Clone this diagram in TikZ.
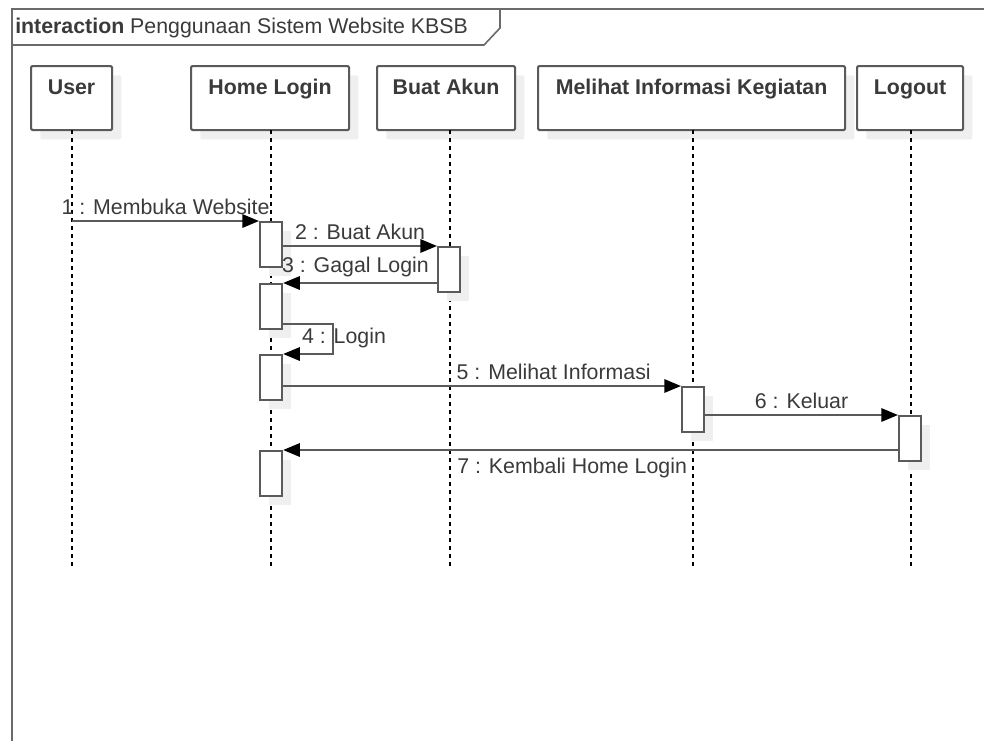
\documentclass[tikz,border=0pt]{standalone}
\usepackage{fontspec}
\setmainfont{Liberation Sans}
\usetikzlibrary{arrows.meta,shadows}

\definecolor{linegray}{HTML}{5A5A5A}
\definecolor{framegray}{HTML}{6A6A6A}
\definecolor{textgray}{HTML}{3A3A3A}
\definecolor{shadowgray}{HTML}{EFEFEF}

\begin{document}
\begin{tikzpicture}[x=0.75pt,y=-0.75pt,
  every node/.style={font=\fontsize{16}{19}\selectfont, text=textgray},
  boxshadow/.style={drop shadow={shadow xshift=7pt, shadow yshift=-7pt,
      fill=shadowgray, opacity=1}},
  headbox/.style={draw=linegray, line width=1.6pt, fill=white, rounded corners=1pt,
      anchor=north west, inner xsep=0pt, inner ysep=0pt,
      text height=21pt, text depth=27pt, font=\fontsize{16}{19}\selectfont\bfseries,
      boxshadow},
  actbox/.style={draw=linegray, line width=1.6pt, fill=white, anchor=north west,
      minimum width=16.5pt, minimum height=33.75pt, inner sep=0pt, boxshadow},
  lifeline/.style={black, line width=0.8pt, dash pattern=on 3pt off 3pt},
  msg/.style={draw=linegray, line width=1.5pt,
      -{Triangle[length=12.5pt, width=10pt, color=black]}},
  lbl/.style={inner sep=1pt, text=textgray},
]
\useasboundingbox (0,0) rectangle (984,740);

% interaction frame and its name tab
\draw[framegray, line width=1.5pt] (12,745) -- (12,9) -- (990,9);
\draw[framegray, line width=1.2pt] (12,9) -- (500,9) -- (500,28) -- (484,45) -- (12,45);
\node[anchor=base west, inner sep=0pt] (title) at (15,33)
  {\textbf{interaction} Penggunaan Sistem Website KBSB};

% lifeline heads
\node[headbox, minimum width=60.75pt] (user)   at (30,65)  {User};
\node[headbox, minimum width=118.5pt] (home)   at (190,65) {Home Login};
\node[headbox, minimum width=103.5pt] (akun)   at (376,65) {Buat Akun};
\node[headbox, minimum width=230.25pt] (info)  at (537,65) {Melihat Informasi Kegiatan};
\node[headbox, minimum width=79.5pt] (logout)  at (856,65) {Logout};

% lifeline tops
\coordinate (uL) at (72,130);
\coordinate (hL) at (271,130);
\coordinate (aL) at (450,130);
\coordinate (iL) at (693,130);
\coordinate (oL) at (911,130);

\foreach \l in {uL,hL,aL,iL,oL}
  \draw[lifeline] (\l) -- ++(0,436);

% activations
\node[actbox] (h1) at (259,221) {};
\node[actbox] (a1) at (437,246) {};
\node[actbox] (h2) at (259,283) {};
\node[actbox] (h3) at (259,354) {};
\node[actbox] (i1) at (681,386) {};
\node[actbox] (o1) at (898,415) {};
\node[actbox] (h4) at (259,450) {};

% messages
\draw[msg] (uL |- h1.north) -- (h1.north west)
  node[lbl, midway, above=3pt] (m1) {1 : Membuka Website};
\draw[msg] (h1.east |- a1.north) -- (a1.north west)
  node[lbl, midway, above=3pt] (m2) {2 : Buat Akun};
\draw[msg] (a1.west |- h2.north) -- (h2.north east)
  node[lbl, pos=0.53, above=3pt] (m3) {3 : Gagal Login};
\draw[msg] ([yshift=4.5pt]h2.south east) -- ++(50,0) |- (h3.north east);
\node[lbl, anchor=base] (m4) at (344,343) {4 : Login};
\draw[msg] (h3.east |- i1.north) -- (i1.north west)
  node[lbl, pos=0.68, above=3pt] (m5) {5 : Melihat Informasi};
\draw[msg] (i1.east |- o1.north) -- (o1.north west)
  node[lbl, midway, above=3pt] (m6) {6 : Keluar};
\draw[msg] (o1.west |- h4.north) -- (h4.north east)
  node[lbl, pos=0.53, below=4pt] (m7) {7 : Kembali Home Login};
\end{tikzpicture}
\end{document}
